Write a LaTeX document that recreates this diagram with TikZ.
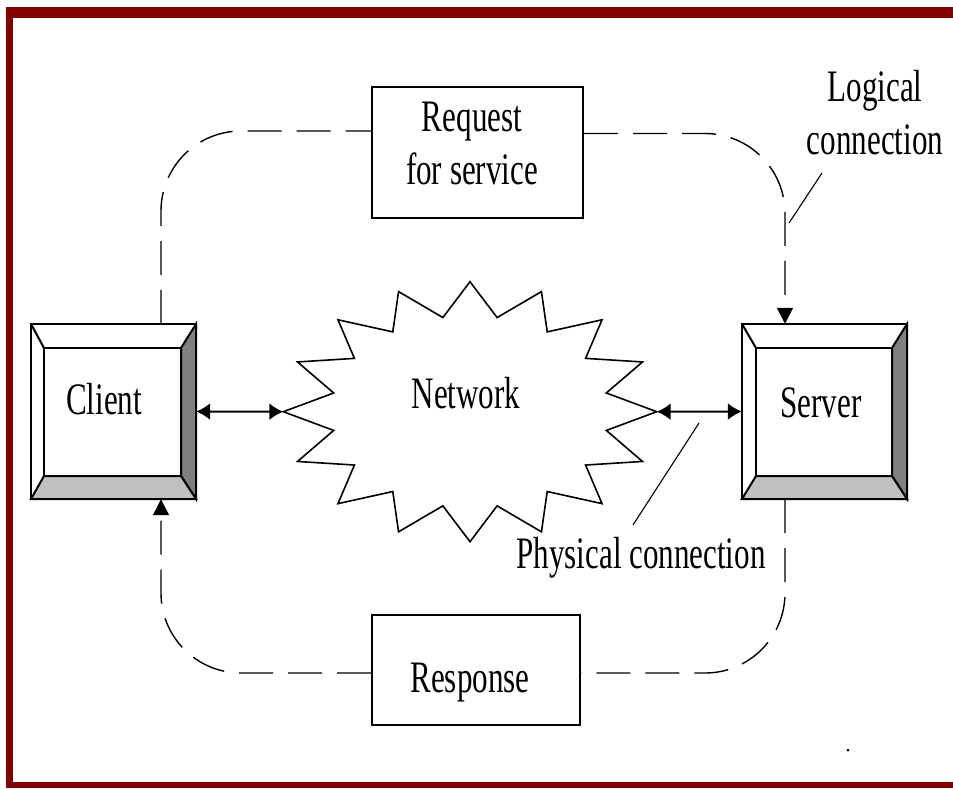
\documentclass[tikz,border=0pt]{standalone}
\usepackage{fontspec}
\setmainfont{Liberation Serif}
\usepackage{graphicx}
\usetikzlibrary{positioning}
\usetikzlibrary{arrows.meta}

\definecolor{frame}{HTML}{800000}
\definecolor{bevdark}{HTML}{808080}
\definecolor{bevlight}{HTML}{C0C0C0}

\newcommand{\sq}[1]{\scalebox{0.69}[1]{#1}}
% bevel box: outer x1 y1 x2 y2, inner x3 y3 x4 y4
\newcommand{\bevelbox}[8]{%
\filldraw[fill=bevdark, line width=2pt, line join=miter] (#3,#2) -- (#3,#4) -- (#7,#8) -- (#7,#6) -- cycle;
\filldraw[fill=bevlight, line width=2pt, line join=miter] (#1,#4) -- (#3,#4) -- (#7,#8) -- (#5,#8) -- cycle;
\draw[line width=2pt] (#1,#2) -- (#5,#6);
\draw[line width=2pt] (#1,#2) rectangle (#3,#4);
\draw[line width=2pt] (#5,#6) rectangle (#7,#8);}

\tikzset{
  lbl/.style={font=\fontsize{45}{53}\selectfont, inner sep=0pt, align=center},
  msgbox/.style={draw, line width=2pt, inner sep=0pt},
  link/.style={line width=2pt, {Latex[length=14pt, width=17pt]}-{Latex[length=14pt, width=17pt]}},
  logical/.style={line width=1.4pt, dash pattern=on 34pt off 15pt, rounded corners=80pt},
  logtip/.style={-{Triangle[length=16pt, width=16pt]}},
  pointer/.style={line width=1.1pt}
}

\begin{document}
\begin{tikzpicture}[x=1pt, y=-1pt]
\useasboundingbox (0,0) rectangle (953,788);
%frame
\fill[frame] (6,7) rectangle (953,18);
\fill[frame] (6,7) rectangle (13,788);
\fill[frame] (6,782) rectangle (953,788);

%client and server
\node[minimum width=165pt, minimum height=175pt, inner sep=0pt] (client) at (113.5,411.5) {};
\node[minimum width=165pt, minimum height=175pt, inner sep=0pt] (server) at (824.5,411.5) {};
\bevelbox{31}{324}{196}{499}{44}{348}{181}{476}
\bevelbox{742}{324}{907}{499}{756}{348}{892}{476}
\node[lbl, anchor=base] (clientlbl) at (104,414) {\sq{Client}};
\node[lbl, anchor=base] (serverlbl) at (821,417) {\sq{Server}};

%network
\draw[line width=1.6pt, fill=white, shift={(470,411.7)}] (186.7,0)
  \foreach \i in {0,...,15} {
    -- ({139*cos(\i*22.5+11.25)}, {96*sin(\i*22.5+11.25)})
    -- ({186.7*cos((\i+1)*22.5)}, {130*sin((\i+1)*22.5)})
  } -- cycle;
\node[lbl, anchor=base] (network) at (466,408) {\sq{Network}};
\coordinate (netW) at (283.3,411.7);
\coordinate (netE) at (656.7,411.7);

%physical links
\draw[link] (client.east) -- (netW);
\draw[link] (netE) -- (server.west);

%message boxes
\node[msgbox, minimum width=211pt, minimum height=131pt] (request) at (477.5,152.5) {};
\node[lbl] (reqlbl) at (472,143.5) {\sq{Request}\\\sq{for service}};
\node[msgbox, minimum width=208pt, minimum height=110pt] (response) at (476,670) {};
\node[lbl, anchor=base] (resplbl) at (470,692) {\sq{Response}};

%logical connection
\draw[logical] ([xshift=47.5pt]client.north) |- ([yshift=21.5pt]request.west);
\draw[logical, logtip] ([yshift=19pt]request.east) -| ([xshift=-39.5pt]server.north);
\draw[logical] ([xshift=-39.5pt]server.south) |- ([yshift=-3pt]response.east);
\draw[logical, logtip] ([yshift=-3pt]response.west) -| ([xshift=47.5pt]client.south);

%labels
\node[lbl] (loglbl) at (875,113) {\sq{Logical}\\\sq{connection}};
\coordinate (logfrom) at (822,173);
\coordinate (logto) at (789,223);
\draw[pointer] (logfrom) -- (logto);
\node[lbl, anchor=base] (physlbl) at (641,568) {\sq{Physical connection}};
\coordinate (physfrom) at (633,525);
\coordinate (physto) at (699,423);
\draw[pointer] (physfrom) -- (physto);

\fill (848,750) circle (1.5pt);
\end{tikzpicture}
\end{document}
